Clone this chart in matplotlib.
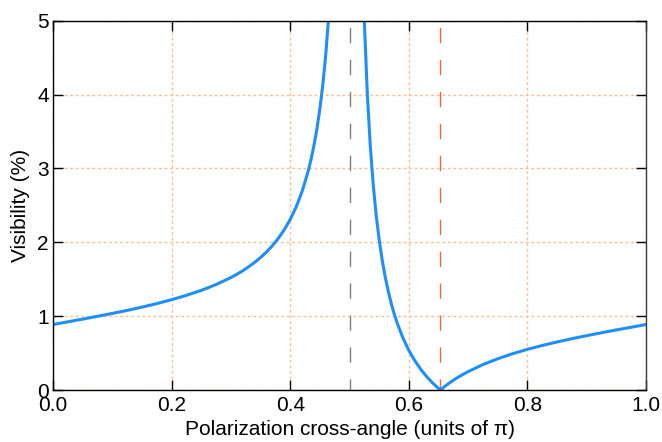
import numpy as np
import matplotlib
matplotlib.use("Agg")
import matplotlib.pyplot as plt

plt.rcParams['font.family'] = ['Liberation Sans', 'DejaVu Sans']

# left branch (below the pole at 0.5)
x_left = [0.0, 0.025, 0.05, 0.075, 0.1, 0.125, 0.15, 0.175, 0.2, 0.225, 0.25, 0.275,
          0.3, 0.31, 0.32, 0.33, 0.34, 0.35, 0.36, 0.37, 0.38, 0.39, 0.4, 0.41,
          0.42, 0.43, 0.435, 0.44, 0.445, 0.45, 0.455, 0.46, 0.465, 0.47]
v_left = [0.887, 0.923, 0.960, 0.998, 1.037, 1.078, 1.122, 1.170, 1.223, 1.282, 1.349, 1.428,
          1.523, 1.567, 1.615, 1.669, 1.728, 1.794, 1.869, 1.955, 2.055, 2.171, 2.310, 2.478,
          2.688, 2.956, 3.119, 3.310, 3.536, 3.806, 4.136, 4.548, 5.076, 5.78]

# right branch (above the pole), dips to zero at the red marker
x_right = [0.52, 0.525, 0.53, 0.535, 0.54, 0.545, 0.55, 0.555, 0.56, 0.565, 0.57, 0.575,
           0.58, 0.59, 0.6, 0.61, 0.62, 0.63, 0.64, 0.653, 0.66, 0.67, 0.68, 0.69,
           0.7, 0.725, 0.75, 0.775, 0.8, 0.825, 0.85, 0.875, 0.9, 0.925, 0.95, 0.975, 1.0]
v_right = [6.46, 4.985, 4.005, 3.303, 2.774, 2.362, 2.033, 1.763, 1.537, 1.346, 1.182, 1.039,
           0.914, 0.705, 0.536, 0.398, 0.281, 0.182, 0.096, 0.0, 0.0456, 0.105, 0.158, 0.206,
           0.250, 0.345, 0.424, 0.492, 0.551, 0.603, 0.651, 0.695, 0.736, 0.776, 0.814, 0.850, 0.887]

pole_x = 0.5
zero_x = 0.653

xticks = [0.0, 0.2, 0.4, 0.6, 0.8, 1.0]
yticks = [0, 1, 2, 3, 4, 5]

fig = plt.figure(figsize=(6.62, 4.42), dpi=100)
ax = fig.add_axes([0.080, 0.1176, 0.896, 0.8355])

ax.grid(True, color='#fbbf90', linestyle=(0, (2, 2)), linewidth=1.0)
ax.set_axisbelow(True)

ax.axvline(pole_x, color='#7f7f7f', linewidth=1.0, linestyle=(3, (11, 12)))
ax.axvline(zero_x, color='#f2634f', linewidth=1.0, linestyle=(3, (11, 12)))

ax.plot(x_left, v_left, color='#1f8ff5', linewidth=2.2, solid_capstyle='round')
ax.plot(x_right, v_right, color='#1f8ff5', linewidth=2.2, solid_capstyle='round')

ax.set_xlim(0, 1)
ax.set_ylim(0, 5)
ax.set_xticks(xticks)
ax.set_yticks(yticks)
ax.set_xticklabels([f"{t:.1f}" for t in xticks])
ax.tick_params(direction='in', length=7, width=1.0, labelsize=15,
               top=True, right=True)
ax.tick_params(axis='x', pad=4)
ax.tick_params(axis='y', pad=3)
for s in ax.spines.values():
    s.set_linewidth(1.0)
ax.spines['right'].set_color('#3a3a3a')

ax.set_xlabel("Polarization cross-angle (units of π)", fontsize=15, labelpad=4)
ax.set_ylabel("Visibility (%)", fontsize=15, labelpad=5)

fig.savefig("out.png", dpi=100)
